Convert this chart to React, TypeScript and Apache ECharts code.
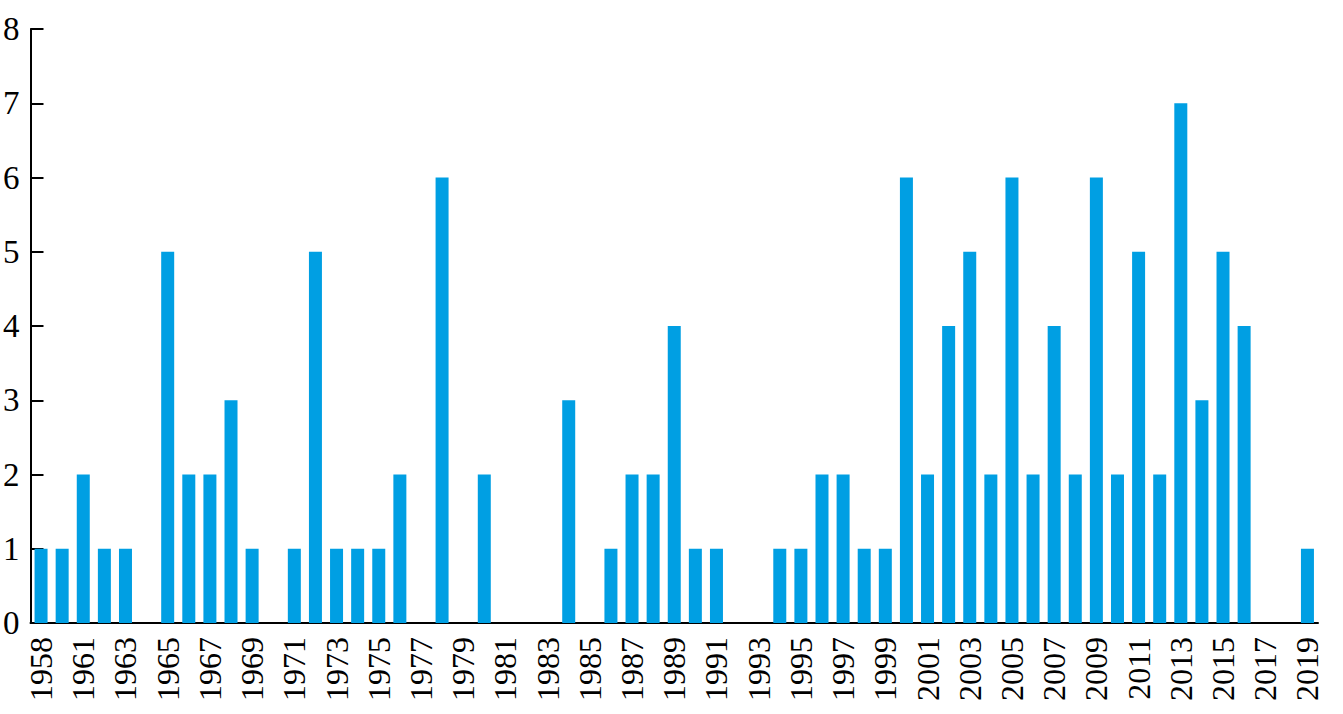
import React, { useEffect, useRef } from "react";
import * as echarts from "echarts";

const years: string[] = [
  "1958", "1960", "1961", "1962", "1963", "1964", "1965", "1966", "1967", "1968",
  "1969", "1970", "1971", "1972", "1973", "1974", "1975", "1976", "1977", "1978",
  "1979", "1980", "1981", "1982", "1983", "1984", "1985", "1986", "1987", "1988",
  "1989", "1990", "1991", "1992", "1993", "1994", "1995", "1996", "1997", "1998",
  "1999", "2000", "2001", "2002", "2003", "2004", "2005", "2006", "2007", "2008",
  "2009", "2010", "2011", "2012", "2013", "2014", "2015", "2016", "2017", "2018",
  "2019",
];

const counts: number[] = [
  1, 1, 2, 1, 1, 0, 5, 2, 2, 3,
  1, 0, 1, 5, 1, 1, 1, 2, 0, 6,
  0, 2, 0, 0, 0, 3, 0, 1, 2, 2,
  4, 1, 1, 0, 0, 1, 1, 2, 2, 1,
  1, 6, 2, 4, 5, 2, 6, 2, 4, 2,
  6, 2, 5, 2, 7, 3, 5, 4, 0, 0,
  1,
];

const yMin = 0;
const yMax = 8;
const yStep = 1;

export default function App() {
  const ref = useRef<HTMLDivElement>(null);
  useEffect(() => {
    if (!ref.current) return;
    const chart = echarts.init(ref.current, null, { renderer: "svg" });
    const font = "Liberation Serif";
    chart.setOption({
      animation: false,
      backgroundColor: "#ffffff",
      grid: { left: 28, right: 25, top: 29, bottom: 91, containLabel: false },
      xAxis: {
        type: "category",
        data: years,
        boundaryGap: true,
        axisLine: { show: true, lineStyle: { color: "#000", width: 2 } },
        axisTick: { show: false },
        axisLabel: {
          interval: 1,
          rotate: 90,
          margin: 14,
          color: "#000",
          fontFamily: font,
          fontSize: 32,
        },
        splitLine: { show: false },
      },
      yAxis: {
        type: "value",
        min: yMin,
        max: yMax,
        interval: yStep,
        axisLine: { show: true, lineStyle: { color: "#000", width: 2 } },
        axisTick: { show: true, inside: true, length: 13, lineStyle: { color: "#000", width: 2 } },
        axisLabel: {
          margin: 11,
          color: "#000",
          fontFamily: font,
          fontSize: 33,
        },
        splitLine: { show: false },
      },
      series: [
        {
          type: "bar",
          data: counts,
          barWidth: 13,
          itemStyle: { color: "#009FE3" },
        },
      ],
    });
    return () => chart.dispose();
  }, []);
  return (
    <div
      ref={ref}
      style={{ position: "absolute", left: 0, top: 0, width: 1343, height: 714 }}
    />
  );
}
